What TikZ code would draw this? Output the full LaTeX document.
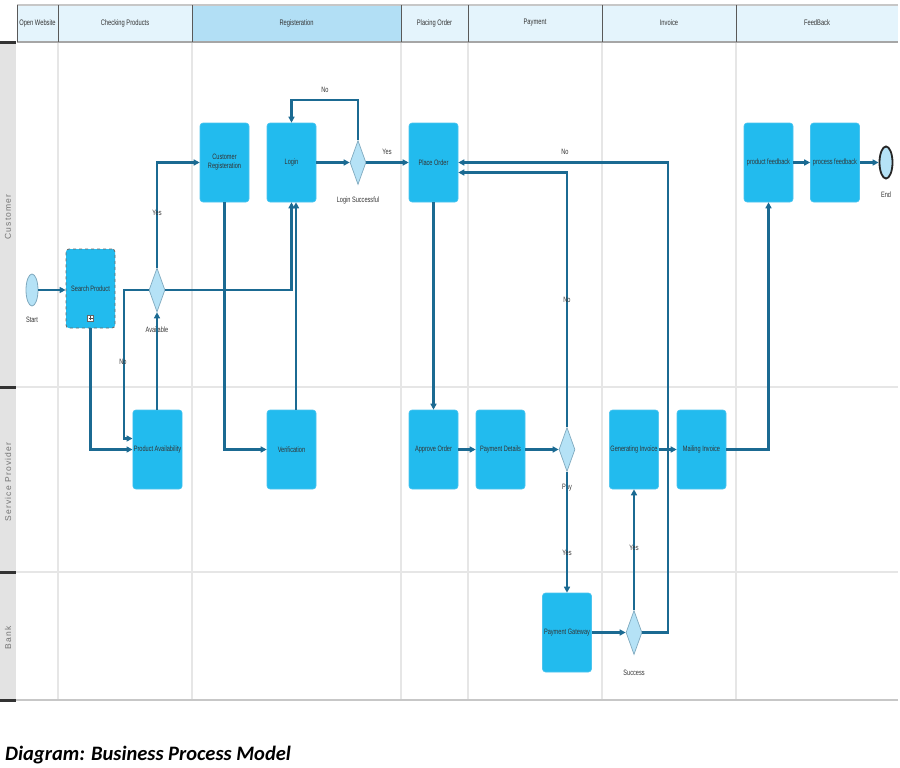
\documentclass[tikz,border=0pt]{standalone}
\usepackage{fontspec}
\usetikzlibrary{shapes.geometric,arrows.meta}
\newfontfamily\condfont{Liberation Sans}[FakeStretch=0.72]
\newfontfamily\lanefont{Liberation Sans}[LetterSpace=14]
\newfontfamily\capfont{Carlito}
\definecolor{boxblue}{HTML}{22BBEE}
\definecolor{boxedge}{HTML}{4CC4EE}
\definecolor{diafill}{HTML}{B5E2F6}
\definecolor{diaedge}{HTML}{7FA9BE}
\definecolor{flowc}{HTML}{1B6A92}
\definecolor{hdrlight}{HTML}{E4F4FC}
\definecolor{hdrdark}{HTML}{B2DFF5}
\definecolor{gridc}{HTML}{E6E6E6}
\definecolor{lanegray}{HTML}{E3E3E3}
\definecolor{txtdark}{HTML}{333333}
\tikzset{
  boxnode/.style={rectangle, rounded corners=3pt, fill=boxblue, draw=boxedge, line width=0.6pt,
    minimum width=49pt, minimum height=79pt, inner sep=1pt, align=center,
    text=txtdark, font=\condfont\fontsize{7.8}{9}\selectfont},
  dia/.style={diamond, fill=diafill, draw=diaedge, line width=0.7pt, minimum width=16pt,
    minimum height=44pt, inner sep=0pt},
  evt/.style={ellipse, fill=diafill, draw=diaedge, line width=0.8pt, minimum width=12pt,
    minimum height=32pt, inner sep=0pt},
  lbl/.style={text=txtdark, font=\condfont\fontsize{7.8}{9}\selectfont, inner sep=0pt},
  hdr/.style={text=txtdark, font=\condfont\fontsize{8}{9}\selectfont, inner sep=0pt},
  lanelbl/.style={text=black!55, rotate=90, font=\lanefont\fontsize{8.5}{9}\selectfont, inner sep=0pt},
  flow/.style={draw=flowc, line width=2.2pt, -{Triangle[length=6pt,width=6pt]}},
}
\begin{document}
\begin{tikzpicture}[x=1pt,y=-1pt]
\useasboundingbox (0,0) rectangle (900,768);
% ---- header ----
\fill[hdrlight] (17,5) rectangle (898,42);
\fill[hdrdark] (192,5) rectangle (401,42);
\draw[black!22, line width=2pt] (17,5) -- (898,5);
\draw[black!35, line width=1.5pt] (17,42) -- (898,42);
\foreach \x in {17,58,192,401,468,602,736}
  \draw[black!65, line width=1pt] (\x,5) -- (\x,42);
\node[hdr] (h1) at (37.5,23) {Open Website};
\node[hdr] (h2) at (125,23) {Checking Products};
\node[hdr] (h3) at (296.5,23) {Registeration};
\node[hdr] (h4) at (434.5,23) {Placing Order};
\node[hdr] (h5) at (535,23) {Payment};
\node[hdr] (h6) at (669,23) {Invoice};
\node[hdr] (h7) at (817,23) {FeedBack};
% ---- lanes ----
\fill[lanegray] (0,43) rectangle (16,700);
\foreach \x in {58,192,401,468,602,736}
  \draw[gridc, line width=1.3pt] (\x,43) -- (\x,700);
\draw[gridc, line width=1.3pt] (16,387) -- (898,387);
\draw[gridc, line width=1.3pt] (16,572) -- (898,572);
\draw[black!22, line width=2pt] (16,700) -- (898,700);
\foreach \y in {43,387,572,700}
  \draw[black!80, line width=3pt] (0,\y) -- (16,\y);
\node[lanelbl] (l1) at (8,217) {Customer};
\node[lanelbl] (l2) at (8,482) {Service Provider};
\node[lanelbl] (l3) at (8,638) {Bank};
% ---- nodes ----
\node[evt] (start) at (32,290) {};
\node[lbl] (startl) at (32,320) {Start};
\node[boxnode, dashed, draw=black!60, line width=0.8pt] (search) at (90.5,288.5) {Search Product};
\draw[black!60, fill=white, line width=0.6pt] (87.5,315) rectangle (93.5,321);
\draw[black!70, line width=0.6pt] (90.5,316) -- (90.5,320) (88.5,318) -- (92.5,318);
\node[dia] (avail) at (157,290) {};
\node[lbl] (availl) at (157,330) {Available};
\node[boxnode] (pa) at (157.5,449.5) {Product Availability};
\node[boxnode] (custreg) at (224.5,162.5) {Customer\\Registeration};
\node[boxnode] (login) at (291.5,162.5) {Login};
\node[boxnode] (ver) at (291.5,449.5) {Verification};
\node[dia] (ls) at (358,162.5) {};
\node[lbl] (lsl) at (358,200) {Login Successful};
\node[boxnode] (po) at (433.5,162.5) {Place Order};
\node[boxnode] (ao) at (433.5,449.5) {Approve Order};
\node[boxnode] (pd) at (500.5,449.5) {Payment Details};
\node[dia] (pay) at (567,449.5) {};
\node[lbl] (payl) at (567,488) {Pay};
\node[boxnode] (pg) at (567,632.5) {Payment Gateway};
\node[dia] (succ) at (634,632.5) {};
\node[lbl] (succl) at (634,673) {Success};
\node[boxnode] (gi) at (634,449.5) {Generating Invoice};
\node[boxnode] (mi) at (701.5,449.5) {Mailing Invoice};
\node[boxnode] (pf) at (768.5,162.5) {product feedback};
\node[boxnode] (prf) at (835,162.5) {process feedback};
\node[evt, draw=black!85, line width=1.8pt, minimum width=13pt] (endev) at (886,162.5) {};
\node[lbl] (endl) at (886,195) {End};
% ---- connectors ----
\draw[flow] (start.east) -- (start.east -| search.west);
\draw[flow] (search.south) |- (pa.west);
\draw[flow] (avail.west) -- ++(-25,0) |- ([yshift=11pt]pa.west);
\node[lbl] (no1) at (123,362) {No};
\draw[flow] (pa.north -| avail.south) -- (avail.south);
\draw[flow] (avail.north) |- (custreg.west);
\node[lbl] (yes1) at (157,213) {Yes};
\draw[flow] (avail.east) -| (login.south);
\draw[flow] ([xshift=4.5pt]ver.north) -- ([xshift=4.5pt]login.south);
\draw[flow] (custreg.south) |- (ver.west);
\draw[flow] (login.east) -- (ls.west);
\draw[flow] (ls.north) -- ++(0,-40) -| (login.north);
\node[lbl] (no2) at (325,90) {No};
\draw[flow] (ls.east) -- (po.west);
\node[lbl] (yes2) at (387,152) {Yes};
\draw[flow] (po.south) -- (ao.north);
\draw[flow] (ao.east) -- (pd.west);
\draw[flow] (pd.east) -- (pay.west);
\draw[flow] (pay.north) |- ([yshift=-10pt]po.east);
\node[lbl] (no3) at (567,300) {No};
\draw[flow] (pay.south) -- (pg.north);
\node[lbl] (yes3) at (567,553) {Yes};
\draw[flow] (pg.east) -- (succ.west);
\draw[flow] (succ.north) -- (gi.south);
\node[lbl] (yes4) at (634,548) {Yes};
\draw[flow] (succ.east) -- ++(26,0) |- (po.east);
\node[lbl] (no4) at (565,152) {No};
\draw[flow] (gi.east) -- (mi.west);
\draw[flow] (mi.east) -| (pf.south);
\draw[flow] (pf.east) -- (prf.west);
\draw[flow] (prf.east) -- (endev.west);
% ---- caption ----
\node[anchor=west, inner sep=0pt, font=\capfont\bfseries\itshape\fontsize{20.5}{23}\selectfont] (cap) at (5,755) {Diagram: Business Process Model};
\end{tikzpicture}
\end{document}
